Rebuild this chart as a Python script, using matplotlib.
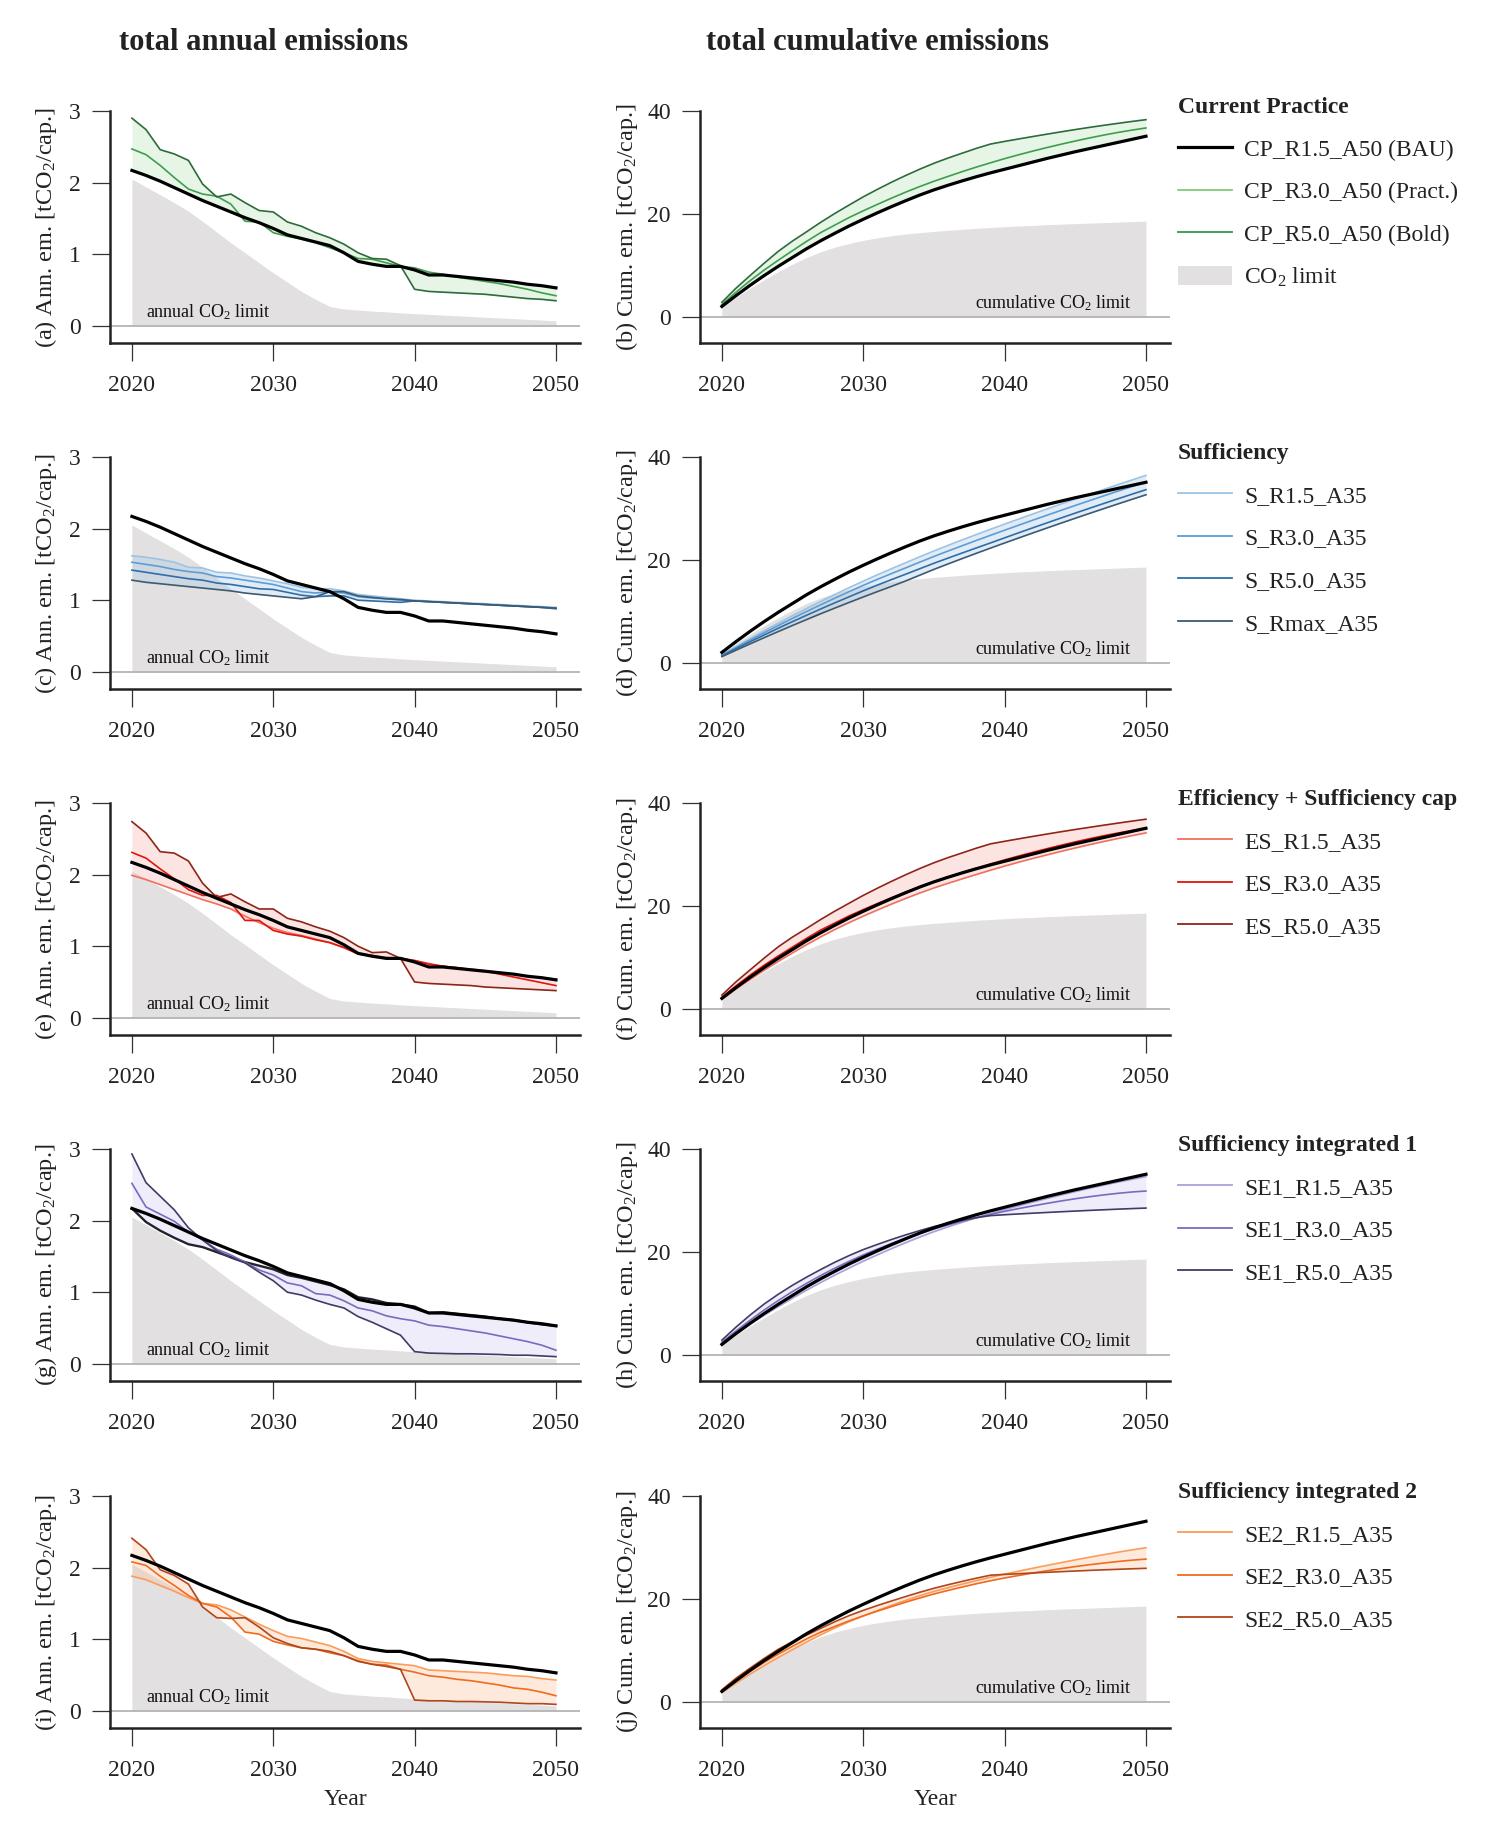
import matplotlib
matplotlib.use('Agg')
import matplotlib.pyplot as plt
from matplotlib.lines import Line2D
from matplotlib.patches import Patch
import numpy as np

plt.rcParams['font.family'] = ['Liberation Serif', 'DejaVu Serif']
plt.rcParams['mathtext.fontset'] = 'custom'
plt.rcParams['mathtext.rm'] = 'Liberation Serif'
plt.rcParams['mathtext.it'] = 'Liberation Serif:italic'
plt.rcParams['mathtext.bf'] = 'Liberation Serif:bold'

# ---------------- data ----------------
YEARS = list(range(2020, 2051))

LIMIT_ANN = [2.05, 1.94, 1.83, 1.72, 1.60, 1.46, 1.31, 1.16, 1.02, 0.88,
             0.74, 0.61, 0.48, 0.37, 0.27, 0.235, 0.22, 0.205, 0.195, 0.18,
             0.17, 0.16, 0.15, 0.14, 0.13, 0.12, 0.11, 0.10, 0.09, 0.08, 0.07]
LIMIT_CUM = [2.05, 3.9, 5.65, 7.3, 8.85, 10.3, 11.6, 12.7, 13.6, 14.3,
             14.9, 15.4, 15.8, 16.15, 16.4, 16.65, 16.85, 17.05, 17.25, 17.4,
             17.55, 17.7, 17.8, 17.95, 18.05, 18.15, 18.25, 18.35, 18.45, 18.55, 18.65]

BAU_ANN = [2.17, 2.10, 2.02, 1.93, 1.84, 1.75, 1.67, 1.59, 1.51, 1.44,
           1.36, 1.27, 1.22, 1.17, 1.12, 1.02, 0.90, 0.86, 0.83, 0.83,
           0.78, 0.71, 0.71, 0.69, 0.67, 0.65, 0.63, 0.61, 0.58, 0.56, 0.53]
BAU_CUM = [2.1, 4.2, 6.2, 8.1, 9.9, 11.6, 13.3, 14.85, 16.3, 17.7,
           19.0, 20.25, 21.45, 22.6, 23.7, 24.7, 25.6, 26.45, 27.25, 28.0,
           28.7, 29.4, 30.1, 30.8, 31.45, 32.1, 32.7, 33.3, 33.9, 34.5, 35.1]

# Current Practice
CP_R30_ANN = [2.47, 2.39, 2.24, 2.07, 1.91, 1.84, 1.81, 1.70, 1.46, 1.45,
              1.30, 1.25, 1.21, 1.16, 1.09, 1.02, 0.94, 0.93, 0.88, 0.83,
              0.81, 0.75, 0.72, 0.68, 0.65, 0.62, 0.59, 0.55, 0.51, 0.46, 0.42]
CP_R30_CUM = [2.47, 4.86, 7.10, 9.17, 11.08, 12.92, 14.73, 16.43, 17.89, 19.34,
              20.64, 21.89, 23.10, 24.26, 25.35, 26.37, 27.31, 28.24, 29.12, 29.95,
              30.76, 31.51, 32.23, 32.91, 33.56, 34.18, 34.77, 35.32, 35.83, 36.29, 36.71]
CP_R50_ANN = [2.90, 2.74, 2.46, 2.40, 2.31, 1.98, 1.80, 1.84, 1.72, 1.61,
              1.59, 1.45, 1.39, 1.30, 1.23, 1.14, 1.02, 0.94, 0.93, 0.84,
              0.51, 0.48, 0.47, 0.46, 0.45, 0.44, 0.42, 0.40, 0.38, 0.37, 0.35]
CP_R50_CUM = [2.90, 5.64, 8.10, 10.50, 12.81, 14.79, 16.59, 18.43, 20.15, 21.76,
              23.35, 24.80, 26.19, 27.49, 28.72, 29.86, 30.88, 31.82, 32.75, 33.59,
              34.10, 34.58, 35.05, 35.51, 35.96, 36.40, 36.82, 37.22, 37.60, 37.97, 38.32]

# Sufficiency
S_R15_ANN = [1.62, 1.60, 1.57, 1.53, 1.46, 1.45, 1.39, 1.38, 1.34, 1.31,
             1.27, 1.23, 1.18, 1.16, 1.16, 1.13, 1.08, 1.06, 1.04, 1.02,
             1.00, 0.99, 0.98, 0.97, 0.96, 0.95, 0.94, 0.93, 0.92, 0.91, 0.90]
S_R15_CUM = [1.62, 3.22, 4.79, 6.32, 7.78, 9.23, 10.62, 12.00, 13.34, 14.65,
             15.92, 17.15, 18.33, 19.49, 20.65, 21.78, 22.86, 23.92, 24.96, 25.98,
             26.98, 27.97, 28.95, 29.92, 30.88, 31.83, 32.77, 33.70, 34.62, 35.53, 36.43]
S_R30_ANN = [1.53, 1.50, 1.47, 1.43, 1.40, 1.38, 1.33, 1.31, 1.28, 1.25,
             1.22, 1.17, 1.12, 1.10, 1.12, 1.10, 1.05, 1.03, 1.02, 1.00,
             0.99, 0.98, 0.97, 0.96, 0.95, 0.94, 0.93, 0.92, 0.91, 0.90, 0.89]
S_R30_CUM = [1.53, 3.03, 4.50, 5.93, 7.33, 8.71, 10.04, 11.35, 12.63, 13.88,
             15.10, 16.27, 17.39, 18.49, 19.61, 20.71, 21.76, 22.79, 23.81, 24.81,
             25.80, 26.78, 27.75, 28.71, 29.66, 30.60, 31.53, 32.45, 33.36, 34.26, 35.15]
S_R50_ANN = [1.42, 1.39, 1.36, 1.33, 1.30, 1.28, 1.24, 1.22, 1.19, 1.16,
             1.15, 1.11, 1.07, 1.05, 1.06, 1.06, 1.00, 0.99, 0.98, 0.97,
             0.99, 0.98, 0.97, 0.96, 0.95, 0.94, 0.93, 0.92, 0.91, 0.90, 0.88]
S_R50_CUM = [1.42, 2.81, 4.17, 5.50, 6.80, 8.08, 9.32, 10.54, 11.73, 12.89,
             14.04, 15.15, 16.22, 17.27, 18.33, 19.39, 20.39, 21.38, 22.36, 23.33,
             24.32, 25.30, 26.27, 27.23, 28.18, 29.12, 30.05, 30.97, 31.88, 32.78, 33.66]
S_RMAX_ANN = [1.28, 1.25, 1.23, 1.21, 1.19, 1.17, 1.15, 1.13, 1.10, 1.08,
              1.06, 1.04, 1.02, 1.05, 1.12, 1.12, 1.06, 1.04, 1.02, 1.01,
              0.99, 0.98, 0.97, 0.96, 0.95, 0.94, 0.93, 0.92, 0.91, 0.90, 0.89]
S_RMAX_CUM = [1.28, 2.53, 3.76, 4.97, 6.16, 7.33, 8.48, 9.61, 10.71, 11.79,
              12.85, 13.89, 14.91, 15.96, 17.08, 18.20, 19.26, 20.30, 21.32, 22.33,
              23.32, 24.30, 25.27, 26.23, 27.18, 28.12, 29.05, 29.97, 30.88, 31.78, 32.67]

# Efficiency + Sufficiency cap
ES_R15_ANN = [1.99, 1.93, 1.86, 1.79, 1.72, 1.65, 1.59, 1.52, 1.42, 1.33,
              1.25, 1.19, 1.15, 1.10, 1.05, 0.98, 0.90, 0.87, 0.84, 0.83,
              0.80, 0.76, 0.72, 0.70, 0.68, 0.66, 0.63, 0.61, 0.58, 0.56, 0.54]
ES_R15_CUM = [1.99, 3.92, 5.78, 7.57, 9.29, 10.94, 12.53, 14.05, 15.47, 16.80,
              18.05, 19.24, 20.39, 21.49, 22.54, 23.52, 24.42, 25.29, 26.13, 26.96,
              27.76, 28.52, 29.24, 29.94, 30.62, 31.28, 31.91, 32.52, 33.10, 33.66, 34.20]
ES_R30_ANN = [2.31, 2.23, 2.08, 1.94, 1.79, 1.71, 1.71, 1.61, 1.36, 1.36,
              1.22, 1.17, 1.14, 1.09, 1.05, 0.98, 0.89, 0.87, 0.83, 0.83,
              0.80, 0.75, 0.72, 0.70, 0.67, 0.65, 0.61, 0.57, 0.53, 0.49, 0.45]
ES_R30_CUM = [2.31, 4.54, 6.62, 8.56, 10.35, 12.06, 13.77, 15.38, 16.74, 18.10,
              19.32, 20.49, 21.63, 22.72, 23.77, 24.75, 25.64, 26.51, 27.34, 28.17,
              28.97, 29.72, 30.44, 31.14, 31.81, 32.46, 33.07, 33.64, 34.17, 34.66, 35.11]
ES_R50_ANN = [2.74, 2.58, 2.32, 2.30, 2.19, 1.88, 1.68, 1.73, 1.62, 1.52,
              1.52, 1.39, 1.34, 1.27, 1.21, 1.12, 1.00, 0.91, 0.92, 0.83,
              0.50, 0.48, 0.47, 0.46, 0.45, 0.43, 0.42, 0.41, 0.40, 0.39, 0.38]
ES_R50_CUM = [2.74, 5.32, 7.64, 9.94, 12.13, 14.01, 15.69, 17.42, 19.04, 20.56,
              22.08, 23.47, 24.81, 26.08, 27.29, 28.41, 29.41, 30.32, 31.24, 32.07,
              32.57, 33.05, 33.52, 33.98, 34.43, 34.86, 35.28, 35.69, 36.09, 36.48, 36.86]

# Sufficiency integrated 1
SE1_R15_ANN = [2.17, 1.98, 1.86, 1.76, 1.67, 1.63, 1.56, 1.49, 1.42, 1.37,
               1.32, 1.24, 1.20, 1.15, 1.10, 1.04, 0.93, 0.90, 0.85, 0.83,
               0.80, 0.71, 0.72, 0.70, 0.68, 0.66, 0.63, 0.61, 0.58, 0.55, 0.53]
SE1_R15_CUM = [2.17, 4.15, 6.01, 7.77, 9.44, 11.07, 12.63, 14.12, 15.54, 16.91,
               18.23, 19.47, 20.67, 21.82, 22.92, 23.96, 24.89, 25.79, 26.64, 27.47,
               28.27, 28.98, 29.70, 30.40, 31.08, 31.74, 32.37, 32.98, 33.56, 34.11, 34.64]
SE1_R30_ANN = [2.52, 2.19, 2.09, 1.99, 1.84, 1.73, 1.60, 1.52, 1.42, 1.31,
               1.24, 1.13, 1.09, 0.98, 0.96, 0.88, 0.78, 0.74, 0.67, 0.63,
               0.60, 0.54, 0.52, 0.49, 0.46, 0.43, 0.39, 0.35, 0.31, 0.26, 0.19]
SE1_R30_CUM = [2.52, 4.71, 6.80, 8.79, 10.63, 12.36, 13.96, 15.48, 16.90, 18.21,
               19.45, 20.58, 21.67, 22.65, 23.61, 24.49, 25.27, 26.01, 26.68, 27.31,
               27.91, 28.45, 28.97, 29.46, 29.92, 30.35, 30.74, 31.09, 31.40, 31.66, 31.85]
SE1_R50_ANN = [2.93, 2.53, 2.34, 2.15, 1.90, 1.73, 1.58, 1.48, 1.41, 1.28,
               1.16, 1.00, 0.96, 0.89, 0.83, 0.78, 0.66, 0.58, 0.49, 0.40,
               0.17, 0.15, 0.145, 0.14, 0.14, 0.135, 0.13, 0.12, 0.12, 0.11, 0.10]
SE1_R50_CUM = [2.93, 5.46, 7.80, 9.95, 11.85, 13.58, 15.16, 16.64, 18.05, 19.33,
               20.49, 21.49, 22.45, 23.34, 24.17, 24.95, 25.61, 26.19, 26.68, 27.08,
               27.25, 27.40, 27.55, 27.69, 27.83, 27.96, 28.09, 28.21, 28.33, 28.44, 28.54]

# Sufficiency integrated 2
SE2_R15_ANN = [1.88, 1.83, 1.75, 1.67, 1.58, 1.50, 1.48, 1.41, 1.31, 1.21,
               1.12, 1.04, 1.01, 0.96, 0.91, 0.83, 0.73, 0.69, 0.67, 0.65,
               0.63, 0.57, 0.56, 0.55, 0.54, 0.53, 0.51, 0.49, 0.48, 0.45, 0.43]
SE2_R15_CUM = [1.88, 3.71, 5.46, 7.13, 8.71, 10.21, 11.69, 13.10, 14.41, 15.62,
               16.74, 17.78, 18.79, 19.75, 20.66, 21.49, 22.22, 22.91, 23.58, 24.23,
               24.86, 25.43, 25.99, 26.54, 27.08, 27.61, 28.12, 28.61, 29.09, 29.54, 29.97]
SE2_R30_ANN = [2.08, 2.03, 1.88, 1.75, 1.61, 1.50, 1.45, 1.31, 1.10, 1.07,
               0.97, 0.92, 0.88, 0.86, 0.81, 0.77, 0.70, 0.65, 0.64, 0.58,
               0.54, 0.49, 0.47, 0.44, 0.42, 0.39, 0.36, 0.32, 0.30, 0.26, 0.21]
SE2_R30_CUM = [2.08, 4.11, 5.99, 7.74, 9.35, 10.85, 12.30, 13.61, 14.71, 15.78,
               16.75, 17.67, 18.55, 19.41, 20.22, 20.99, 21.69, 22.34, 22.98, 23.56,
               24.10, 24.59, 25.06, 25.50, 25.92, 26.31, 26.67, 26.99, 27.29, 27.55, 27.76]
SE2_R50_ANN = [2.41, 2.25, 1.97, 1.89, 1.77, 1.45, 1.30, 1.29, 1.30, 1.17,
               1.02, 0.94, 0.88, 0.86, 0.83, 0.77, 0.69, 0.65, 0.62, 0.58,
               0.15, 0.14, 0.14, 0.13, 0.13, 0.125, 0.12, 0.11, 0.10, 0.10, 0.09]
SE2_R50_CUM = [2.41, 4.66, 6.63, 8.52, 10.29, 11.74, 13.04, 14.33, 15.63, 16.80,
               17.82, 18.76, 19.64, 20.50, 21.33, 22.10, 22.79, 23.44, 24.06, 24.64,
               24.79, 24.93, 25.07, 25.20, 25.33, 25.45, 25.57, 25.68, 25.78, 25.88, 25.97]

GROUP_TITLES = ['Current Practice', 'Sufficiency', 'Efficiency + Sufficiency cap',
                'Sufficiency integrated 1', 'Sufficiency integrated 2']
CP_NAMES = ['CP_R1.5_A50 (BAU)', 'CP_R3.0_A50 (Pract.)', 'CP_R5.0_A50 (Bold)']
S_NAMES = ['S_R1.5_A35', 'S_R3.0_A35', 'S_R5.0_A35', 'S_Rmax_A35']
ES_NAMES = ['ES_R1.5_A35', 'ES_R3.0_A35', 'ES_R5.0_A35']
SE1_NAMES = ['SE1_R1.5_A35', 'SE1_R3.0_A35', 'SE1_R5.0_A35']
SE2_NAMES = ['SE2_R1.5_A35', 'SE2_R3.0_A35', 'SE2_R5.0_A35']
PANEL_LETTERS = ['a', 'b', 'c', 'd', 'e', 'f', 'g', 'h', 'i', 'j']
XTICKS = [2020, 2030, 2040, 2050]

# ---------------- styling ----------------
LIMIT_COLOR = '#e2e0e0'
groups = [
    dict(title=GROUP_TITLES[0], names=CP_NAMES[1:],
         ann=[CP_R30_ANN, CP_R50_ANN], cum=[CP_R30_CUM, CP_R50_CUM],
         colors=['#3f9e4d', '#2d6b3b'], leg_colors=['#7ccf7c', '#319a4a'],
         fill='#b8e3b8', with_bau=True),
    dict(title=GROUP_TITLES[1], names=S_NAMES,
         ann=[S_R15_ANN, S_R30_ANN, S_R50_ANN, S_RMAX_ANN],
         cum=[S_R15_CUM, S_R30_CUM, S_R50_CUM, S_RMAX_CUM],
         colors=['#9cc3e4', '#5d9dd6', '#2f6ea8', '#3e5a70'],
         leg_colors=['#9cc3e4', '#5d9dd6', '#2f6ea8', '#3e5a70'],
         fill='#a9cbe8', with_bau=False),
    dict(title=GROUP_TITLES[2], names=ES_NAMES,
         ann=[ES_R15_ANN, ES_R30_ANN, ES_R50_ANN],
         cum=[ES_R15_CUM, ES_R30_CUM, ES_R50_CUM],
         colors=['#f0705f', '#e3140e', '#8e2518'],
         leg_colors=['#f0705f', '#e3140e', '#8e2518'],
         fill='#f7b3ad', with_bau=False),
    dict(title=GROUP_TITLES[3], names=SE1_NAMES,
         ann=[SE1_R15_ANN, SE1_R30_ANN, SE1_R50_ANN],
         cum=[SE1_R15_CUM, SE1_R30_CUM, SE1_R50_CUM],
         colors=['#a8a2da', '#7a6ac0', '#433a66'],
         ann_colors=['#23232e', '#7a6ac0', '#433a66'],
         leg_colors=['#a8a2da', '#7a6ac0', '#433a66'],
         fill='#cfcdee', with_bau=False),
    dict(title=GROUP_TITLES[4], names=SE2_NAMES,
         ann=[SE2_R15_ANN, SE2_R30_ANN, SE2_R50_ANN],
         cum=[SE2_R15_CUM, SE2_R30_CUM, SE2_R50_CUM],
         colors=['#fb9c5a', '#ef6b1e', '#b0461e'],
         leg_colors=['#fb9c5a', '#ef6b1e', '#b0461e'],
         fill='#fbc3a0', with_bau=False),
]

W, H = 1500, 1829
fig = plt.figure(figsize=(W / 100, H / 100), dpi=100)
ROW_TOPS = [111, 457, 803, 1149, 1496]
AX_H, AX_W = 232, 470
LEFT_X, RIGHT_X = 110, 700
FS = 17


def rect(x, top):
    return [x / W, 1 - (top + AX_H) / H, AX_W / W, AX_H / H]


def style(ax, ylim, yticks):
    ax.set_xlim(2018.45, 2051.7)
    ax.set_ylim(*ylim)
    ax.set_xticks(XTICKS)
    ax.set_yticks(yticks)
    for s in ['top', 'right']:
        ax.spines[s].set_visible(False)
    for s in ['left', 'bottom']:
        ax.spines[s].set_linewidth(1.8)
        ax.spines[s].set_color('#222222')
    ax.tick_params(direction='out', length=13, width=0.9, color='#333333',
                   labelsize=FS, labelcolor='#222222')
    ax.tick_params(axis='x', pad=10)
    ax.tick_params(axis='y', pad=8)
    ax.axhline(0, color='#b4b4b4', lw=1.3, zorder=1.5)


for i, g in enumerate(groups):
    top = ROW_TOPS[i]
    axa = fig.add_axes(rect(LEFT_X, top))
    axc = fig.add_axes(rect(RIGHT_X, top))
    style(axa, (-0.24, 3.0), [0, 1, 2, 3])
    style(axc, (-5, 40), [0, 20, 40])

    ann_series = ([BAU_ANN] if g['with_bau'] else []) + g['ann']
    cum_series = ([BAU_CUM] if g['with_bau'] else []) + g['cum']
    ann_arr = np.array(ann_series)
    cum_arr = np.array(cum_series)

    # annual panel
    axa.fill_between(YEARS, 0, LIMIT_ANN, color=LIMIT_COLOR, lw=0, zorder=1)
    axa.fill_between(YEARS, ann_arr.min(axis=0), ann_arr.max(axis=0),
                     color=g['fill'], alpha=0.35, lw=0, zorder=2)
    acolors = g.get('ann_colors', g['colors'])
    for k, vals in enumerate(g['ann']):
        lw = 1.7 if acolors[k] == '#23232e' else 1.2
        axa.plot(YEARS, vals, color=acolors[k], lw=lw, zorder=3)
    axa.plot(YEARS, BAU_ANN, color='black', lw=2.3, zorder=4)
    axa.text(2021.0, 0.06, 'annual CO$_2$ limit', fontsize=13, zorder=5,
             ha='left', va='bottom', color='#111111')
    axa.set_ylabel('(%s) Ann. em. [tCO$_2$/cap.]' % PANEL_LETTERS[2 * i],
                   fontsize=17.5, labelpad=7, color='#222222')

    # cumulative panel
    axc.fill_between(YEARS, 0, LIMIT_CUM, color=LIMIT_COLOR, lw=0, zorder=1)
    axc.fill_between(YEARS, cum_arr.min(axis=0), cum_arr.max(axis=0),
                     color=g['fill'], alpha=0.35, lw=0, zorder=2)
    for k, vals in enumerate(g['cum']):
        axc.plot(YEARS, vals, color=g['colors'][k], lw=1.2, zorder=3)
    axc.plot(YEARS, BAU_CUM, color='black', lw=2.3, zorder=4)
    axc.text(2049.0, 0.9, 'cumulative CO$_2$ limit', fontsize=13, zorder=5,
             ha='right', va='bottom', color='#111111')
    axc.set_ylabel('(%s) Cum. em. [tCO$_2$/cap.]' % PANEL_LETTERS[2 * i + 1],
                   fontsize=17.5, labelpad=5, color='#222222')

    if i == len(groups) - 1:
        axa.set_xlabel('Year', fontsize=FS, labelpad=6, color='#222222')
        axc.set_xlabel('Year', fontsize=FS, labelpad=6, color='#222222')

    # legend
    handles = []
    if g['with_bau']:
        handles.append(Line2D([], [], color='black', lw=2.3, label=CP_NAMES[0]))
    for k, name in enumerate(g['names']):
        handles.append(Line2D([], [], color=g['leg_colors'][k], lw=1.3, label=name))
    if g['with_bau']:
        handles.append(Patch(facecolor=LIMIT_COLOR, edgecolor='none', label='CO$_2$ limit'))
    leg = fig.legend(handles=handles, loc='upper left',
                     bbox_to_anchor=(1178 / W, 1 - (top - 14) / H),
                     frameon=False, fontsize=FS, title=g['title'],
                     title_fontproperties={'weight': 'bold', 'size': FS},
                     alignment='left', borderpad=0, borderaxespad=0,
                     labelspacing=0.85, handlelength=2.3, handleheight=0.85,
                     handletextpad=0.5)
    for t in leg.get_texts():
        t.set_color('#222222')
    leg.get_title().set_color('#222222')

fig.text(264 / W, 1 - 43 / H, 'total annual emissions', fontsize=22,
         fontweight='bold', ha='center', va='center', color='#222222')
fig.text(877 / W, 1 - 43 / H, 'total cumulative emissions', fontsize=22,
         fontweight='bold', ha='center', va='center', color='#222222')

fig.savefig('out.png', dpi=100, facecolor='white')
